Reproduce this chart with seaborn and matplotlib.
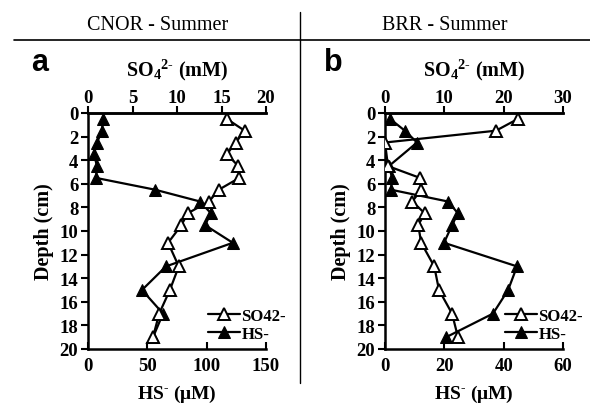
import matplotlib
matplotlib.use("Agg")
import matplotlib.pyplot as plt
import seaborn as sns
import numpy as np

# ---- data ----
depth_a = [0.5, 1.5, 2.5, 3.5, 4.5, 5.5, 6.5, 7.5, 8.5, 9.5, 11, 13, 15, 17, 19]
so4_a = [15.6, 17.6, 16.6, 15.6, 16.9, 17.0, 14.7, 13.6, 11.2, 10.5, 9.0, 10.2, 9.2, 8.0, 7.3]
hs_a = [12.6, 11.8, 7.6, 5.0, 7.6, 6.7, 56.5, 94.4, 103.6, 98.6, 122.0, 65.7, 45.5, 63.2, 54.8]

depth_b = [0.5, 1.5, 2.5, 4.5, 5.5, 6.5, 7.5, 8.5, 9.5, 11, 13, 15, 17, 19]
so4_b = [22.4, 18.7, 0.0, 0.5, 5.9, 6.1, 4.6, 6.7, 5.6, 6.1, 8.3, 9.1, 11.3, 12.3]
hs_b = [1.7, 6.7, 10.8, 1.3, 2.4, 2.0, 21.2, 24.6, 22.6, 19.9, 44.5, 41.5, 36.4, 20.6]

titles = ["CNOR - Summer", "BRR - Summer"]
letters = ["a", "b"]
so4_ticks = [[0, 5, 10, 15, 20], [0, 10, 20, 30]]
hs_ticks = [[0, 50, 100, 150], [0, 20, 40, 60]]
depth_ticks = list(range(0, 21, 2))
legend_labels = ["SO42-", "HS-"]

sns.set_style("white")
plt.rcParams["font.family"] = ["Liberation Serif", "DejaVu Serif"]
plt.rcParams["font.weight"] = "bold"
plt.rcParams["text.color"] = "black"
plt.rcParams["axes.labelcolor"] = "black"
plt.rcParams["xtick.color"] = "black"
plt.rcParams["ytick.color"] = "black"
plt.rcParams["mathtext.fontset"] = "custom"
plt.rcParams["mathtext.rm"] = "Liberation Serif:bold"
plt.rcParams["mathtext.it"] = "Liberation Serif:bold"
plt.rcParams["mathtext.bf"] = "Liberation Serif:bold"

W, H = 590, 406
fig = plt.figure(figsize=(W / 100, H / 100), dpi=100)

def fx(px):
    return px / W

def fy(py):
    return 1 - py / H

panels = [
    (88, depth_a, so4_a, hs_a, 208),
    (385, depth_b, so4_b, hs_b, 505),
]
ax_top, ax_bot = 114, 350
ax_w = 178

for i, (x0, dep, so4, hs, legx) in enumerate(panels):
    ax = fig.add_axes([fx(x0), fy(ax_bot), fx(ax_w), (ax_bot - ax_top) / H])
    ax2 = ax.twiny()
    ax.set_facecolor("none")
    ax2.set_facecolor("none")

    sns.lineplot(x=hs, y=dep, ax=ax, sort=False, estimator=None, color="black",
                 marker="^", markersize=9, markerfacecolor="black",
                 markeredgecolor="black", linewidth=1.6, label=legend_labels[1],
                 legend=False)
    sns.lineplot(x=so4, y=dep, ax=ax2, sort=False, estimator=None, color="black",
                 marker="^", markersize=9, markerfacecolor="white",
                 markeredgecolor="black", markeredgewidth=1.4, linewidth=1.6,
                 label=legend_labels[0], legend=False)

    ax.set_ylim(20, 0)
    ax.set_xlim(hs_ticks[i][0], hs_ticks[i][-1])
    ax2.set_xlim(so4_ticks[i][0], so4_ticks[i][-1])
    ax.set_xticks(hs_ticks[i])
    ax2.set_xticks(so4_ticks[i])
    ax.set_yticks(depth_ticks)

    for a in (ax, ax2):
        for s in a.spines.values():
            s.set_color("black")
            s.set_linewidth(1.8)
        a.spines["right"].set_visible(False)
    ax2.spines["left"].set_visible(False)
    ax2.spines["bottom"].set_visible(False)

    ax.tick_params(axis="x", which="both", bottom=True, top=False, direction="in",
                   length=5, width=1.5, labelsize=13.5, pad=6, colors="black")
    ax.tick_params(axis="y", left=True, direction="out", length=5, width=1.5,
                   labelsize=13.5, pad=2, colors="black")
    ax2.tick_params(axis="x", top=True, bottom=False, direction="out", length=5,
                    width=1.5, labelsize=13.5, pad=0, colors="black")
    for lab in ax.get_xticklabels() + ax.get_yticklabels() + ax2.get_xticklabels():
        lab.set_fontweight("bold")

    ax.set_xlabel(r"HS$^{\text{-}}$ ($\mathbf{\mu}$M)", fontsize=14, fontweight="bold",
                  labelpad=6)
    ax.set_ylabel("Depth (cm)", fontsize=14.5, fontweight="bold", labelpad=4)
    ax2.set_xlabel(r"SO$_4$$^{2\text{-}}$ (mM)", fontsize=14.5, fontweight="bold",
                   labelpad=10)

    h1, l1 = ax2.get_legend_handles_labels()
    h2, l2 = ax.get_legend_handles_labels()
    leg = ax.legend(h1 + h2, l1 + l2, loc="center left",
                    bbox_to_anchor=((legx - x0) / ax_w,
                                    1 - (326 - ax_top) / (ax_bot - ax_top)),
                    frameon=False, handlelength=1.9, handletextpad=0.1,
                    borderpad=0, borderaxespad=0, labelspacing=0.15,
                    prop={"family": "Liberation Serif", "weight": "bold", "size": 12})
    ax.set_zorder(2)
    ax2.set_zorder(3)
    leg.set_zorder(5)

    # panel letter
    fig.text(fx(40 if i == 0 else 333), fy(63), letters[i], fontsize=22,
             fontweight="bold", family="Liberation Sans", color="black",
             ha="center", va="center")
    # title
    fig.text(fx(158 if i == 0 else 445), fy(26), titles[i], fontsize=14.5,
             fontweight="normal", family="Liberation Serif", color="black",
             ha="center", va="center")

# separator lines
fig.add_artist(plt.Line2D([fx(14), fx(590)], [fy(40.5), fy(40.5)], color="black",
                          linewidth=1.2, transform=fig.transFigure))
fig.add_artist(plt.Line2D([fx(300), fx(300)], [fy(13), fy(384)], color="black",
                          linewidth=1.0, transform=fig.transFigure))

fig.savefig("out.png", dpi=100)
